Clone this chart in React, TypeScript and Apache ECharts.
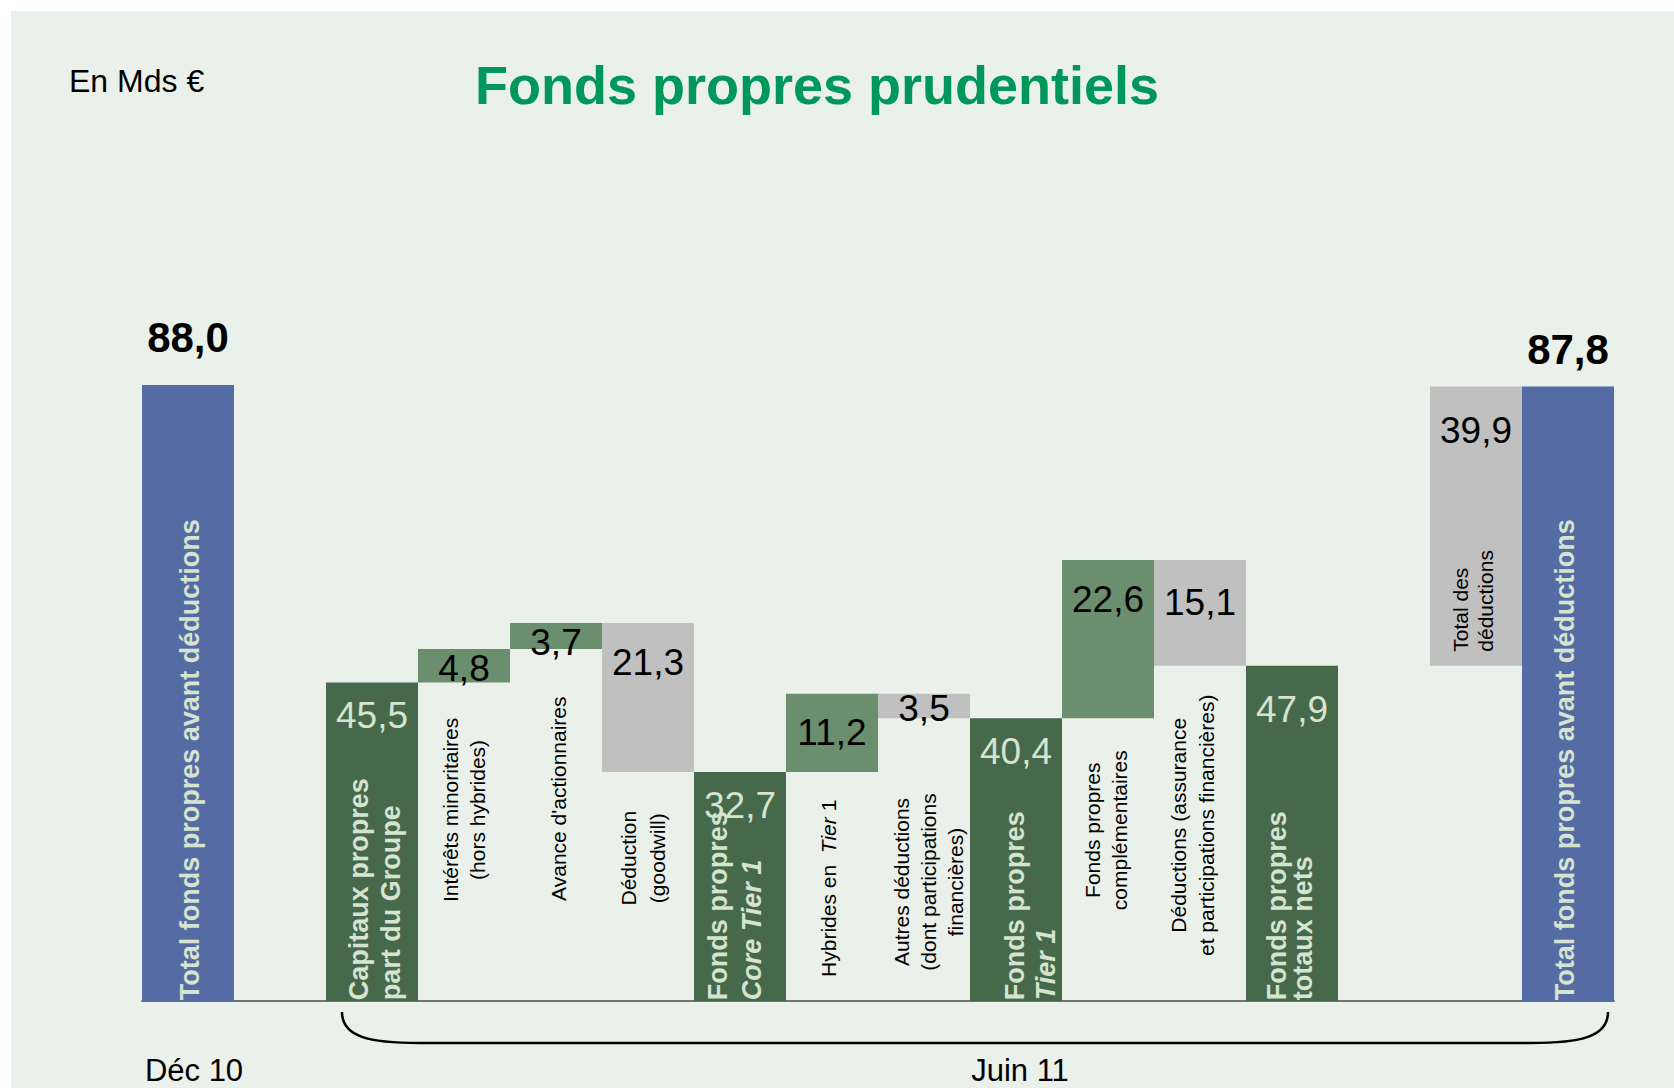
import React, { useEffect, useRef } from "react";
import * as echarts from "echarts";

// ---------- data ----------
const categories = [
  "Total fonds propres avant déductions",
  "",
  "Capitaux propres part du Groupe",
  "Intérêts minoritaires (hors hybrides)",
  "Avance d'actionnaires",
  "Déduction (goodwill)",
  "Fonds propres Core Tier 1",
  "Hybrides en Tier 1",
  "Autres déductions (dont participations financières)",
  "Fonds propres Tier 1",
  "Fonds propres complémentaires",
  "Déductions (assurance et participations financières)",
  "Fonds propres totaux nets",
  "",
  "Total des déductions",
  "Total fonds propres avant déductions",
];
const changes: (number | null)[] = [88.0, null, 45.5, 4.8, 3.7, -21.3, 32.7, 11.2, -3.5, 40.4, 22.6, -15.1, 47.9, null, 39.9, 87.8];
const barKinds = ["start", "gap", "subtotal", "add", "add", "deduct", "subtotal", "add", "deduct", "subtotal", "add", "deduct", "subtotal", "gap", "addback", "end"];
const barLabelTexts = [
  "Total fonds propres avant déductions",
  "",
  "Capitaux propres\npart du Groupe",
  "Intérêts minoritaires\n(hors hybrides)",
  "Avance d'actionnaires",
  "Déduction\n(goodwill)",
  "Fonds propres\n{bi|Core Tier 1}",
  "Hybrides en  {i|Tier} 1",
  "Autres déductions\n(dont participations\nfinancières)",
  "Fonds propres\n{bi|Tier 1}",
  "Fonds propres\ncomplémentaires",
  "Déductions (assurance\net participations financières)",
  "Fonds propres\ntotaux nets",
  "",
  "Total des\ndéductions",
  "Total fonds propres avant déductions",
];
const periodLabels = ["Déc 10", "Juin 11"];
const chartTitle = "Fonds propres prudentiels";
const unitLabel = "En Mds €";

// ---------- styles / layout ----------
const FONT = "'Liberation Sans', Arial, Helvetica, sans-serif";
const LIGHT = "#D5E3CF";
const COLORS: Record<string, string> = {
  start: "#546CA3",
  end: "#546CA3",
  subtotal: "#45694A",
  add: "#6B8F6E",
  deduct: "#C0C0C0",
  addback: "#C0C0C0",
};
const GRID_LEFT = 142;
const GRID_RIGHT_X = 1614;
const BASE_Y = 1001;
const PX_PER_UNIT = 7;
const Y_MAX = 100;

// value label layout: position, offset, light/dark
const valueLabelLayout: any[] = [
  { pos: "top", d: 27 },
  null,
  { pos: "in", d: 14, light: true },
  { pos: "in", d: 1 },
  { pos: "in", d: 1 },
  { pos: "in", d: 21 },
  { pos: "in", d: 15, light: true },
  { pos: "in", d: 20 },
  { pos: "in", d: -4 },
  { pos: "in", d: 15, light: true },
  { pos: "in", d: 21 },
  { pos: "in", d: 24 },
  { pos: "in", d: 25, light: true },
  null,
  { pos: "in", d: 26 },
  { pos: "top", d: 16 },
];

// rotated category labels layout (v: anchor on value axis)
const catLabelLayout: any[] = [
  { v: 0.1, dx: 2, align: "left", bold: true, lh: 32 },
  null,
  { v: 0.1, dx: 3, align: "left", bold: true, lh: 32 },
  { v: 27.3, dx: 0, align: "center", lh: 27 },
  { v: 28.9, dx: 2, align: "center", lh: 27 },
  { v: 20.4, dx: -5, align: "center", lh: 29 },
  { v: 0.1, dx: -5, align: "left", bold: true, lh: 34 },
  { v: 16.1, dx: -4, align: "center", lh: 27 },
  { v: 17.0, dx: 4, align: "center", lh: 27 },
  { v: 0.1, dx: 14, align: "left", bold: true, lh: 31 },
  { v: 24.4, dx: -2, align: "center", lh: 27 },
  { v: 25.1, dx: -8, align: "center", lh: 28 },
  { v: 0.1, dx: -2, align: "left", bold: true, lh: 26 },
  null,
  { v: 49.9, dx: -3, align: "left", lh: 25 },
  { v: 0.1, dx: -3, align: "left", bold: true, lh: 32 },
];

function buildWaterfall() {
  const bases: (number | string)[] = [];
  const heights: any[] = [];
  let running = 0;
  changes.forEach((v, i) => {
    const kind = barKinds[i];
    if (v === null || kind === "gap") {
      bases.push("-");
      heights.push("-");
      return;
    }
    let base = 0;
    let h = 0;
    if (kind === "start" || kind === "subtotal" || kind === "end") {
      base = 0;
      h = v;
      running = v;
    } else if (kind === "add" || kind === "addback") {
      base = running;
      h = v;
      running += v;
    } else {
      running += v;
      base = running;
      h = -v;
    }
    bases.push(+base.toFixed(2));
    const lay = valueLabelLayout[i];
    const isTop = lay && lay.pos === "top";
    heights.push({
      value: +h.toFixed(2),
      itemStyle: { color: COLORS[kind] },
      label: isTop
        ? {
            show: true,
            position: "top",
            distance: lay.d,
            fontSize: 42,
            fontWeight: "bold",
            color: "#000",
            fontFamily: FONT,
          }
        : {
            show: true,
            position: "insideTop",
            distance: 0,
            offset: [0, lay.d],
            fontSize: 37,
            fontWeight: "normal",
            color: lay.light ? LIGHT : "#000",
            fontFamily: FONT,
          },
    });
  });
  return { bases, heights };
}

function fmt(v: number | null) {
  if (v === null) return "";
  return Math.abs(v).toFixed(1).replace(".", ",");
}

export default function App() {
  const ref = useRef<HTMLDivElement>(null);
  useEffect(() => {
    if (!ref.current) return;
    const chart = echarts.init(ref.current, null, { renderer: "svg" });
    const { bases, heights } = buildWaterfall();
    const band = (GRID_RIGHT_X - GRID_LEFT) / categories.length;
    const braceL = GRID_LEFT + 2 * band + 16;
    const braceR = GRID_RIGHT_X - 6;
    const braceTop = BASE_Y + 11;
    const braceBot = BASE_Y + 42;
    const curveW = 78;

    const option: any = {
      animation: false,
      backgroundColor: "transparent",
      grid: {
        left: GRID_LEFT,
        right: 1674 - GRID_RIGHT_X,
        top: BASE_Y - Y_MAX * PX_PER_UNIT,
        bottom: 1088 - BASE_Y,
      },
      xAxis: {
        type: "category",
        data: categories,
        axisLine: { show: true, lineStyle: { color: "#707070", width: 2 } },
        axisTick: { show: false },
        axisLabel: { show: false },
        splitLine: { show: false },
      },
      yAxis: {
        type: "value",
        min: 0,
        max: Y_MAX,
        show: false,
        splitLine: { show: false },
      },
      series: [
        {
          type: "bar",
          stack: "w",
          barWidth: "100%",
          data: bases,
          itemStyle: { color: "transparent" },
          silent: true,
        },
        {
          type: "bar",
          stack: "w",
          barWidth: "100%",
          data: heights,
          label: {
            show: true,
            formatter: (p: any) => fmt(changes[p.dataIndex]),
          },
          silent: true,
        },
        {
          type: "custom",
          silent: true,
          z: 10,
          data: categories.map((_, i) => [i, 0]),
          renderItem: (params: any, api: any) => {
            const i = params.dataIndex;
            const cfg = catLabelLayout[i];
            if (!cfg) return null;
            const p = api.coord([i, cfg.v]);
            const fs = cfg.bold ? 27 : 21;
            const fill = cfg.bold ? LIGHT : "#000";
            const fw = cfg.bold ? "bold" : "normal";
            return {
              type: "text",
              x: p[0] + cfg.dx,
              y: p[1],
              rotation: Math.PI / 2,
              style: {
                text: barLabelTexts[i],
                fill,
                fontSize: fs,
                fontWeight: fw,
                fontFamily: FONT,
                align: cfg.align,
                verticalAlign: "middle",
                lineHeight: cfg.lh,
                rich: {
                  bi: { fontStyle: "italic", fontWeight: "bold", fontSize: fs, fontFamily: FONT, fill, lineHeight: cfg.lh },
                  i: { fontStyle: "italic", fontWeight: fw, fontSize: fs, fontFamily: FONT, fill, lineHeight: cfg.lh },
                },
              },
            };
          },
        },
      ],
      graphic: [
        {
          type: "text",
          x: 817,
          y: 85,
          style: {
            text: chartTitle,
            fill: "#00975A",
            fontSize: 54,
            fontWeight: "bold",
            fontFamily: FONT,
            align: "center",
            verticalAlign: "middle",
          },
        },
        {
          type: "text",
          x: 69,
          y: 81,
          style: {
            text: unitLabel,
            fill: "#000",
            fontSize: 32,
            fontFamily: FONT,
            align: "left",
            verticalAlign: "middle",
          },
        },
        {
          type: "text",
          x: GRID_LEFT + band / 2 + 6,
          y: 1070,
          style: {
            text: periodLabels[0],
            fill: "#000",
            fontSize: 31,
            fontFamily: FONT,
            align: "center",
            verticalAlign: "middle",
          },
        },
        {
          type: "text",
          x: 1020,
          y: 1070,
          style: {
            text: periodLabels[1],
            fill: "#000",
            fontSize: 31,
            fontFamily: FONT,
            align: "center",
            verticalAlign: "middle",
          },
        },
        {
          type: "bezierCurve",
          shape: {
            x1: braceL,
            y1: braceTop,
            cpx1: braceL,
            cpy1: braceBot - 6,
            cpx2: braceL + curveW * 0.35,
            cpy2: braceBot,
            x2: braceL + curveW,
            y2: braceBot,
          },
          style: { stroke: "#000", lineWidth: 2.5, fill: null },
        },
        {
          type: "line",
          shape: { x1: braceL + curveW, y1: braceBot, x2: braceR - curveW, y2: braceBot },
          style: { stroke: "#000", lineWidth: 2.5 },
        },
        {
          type: "bezierCurve",
          shape: {
            x1: braceR - curveW,
            y1: braceBot,
            cpx1: braceR - curveW * 0.35,
            cpy1: braceBot,
            cpx2: braceR,
            cpy2: braceBot - 6,
            x2: braceR,
            y2: braceTop,
          },
          style: { stroke: "#000", lineWidth: 2.5, fill: null },
        },
      ],
    };
    chart.setOption(option);
    return () => chart.dispose();
  }, []);

  return (
    <div style={{ position: "fixed", left: 0, top: 0, width: 1674, height: 1088, background: "#ffffff", overflow: "hidden" }}>
      <div style={{ position: "absolute", left: 11, top: 11, width: 1663, height: 1077, background: "#EAF0EA" }} />
      <div ref={ref} style={{ position: "absolute", left: 0, top: 0, width: 1674, height: 1088 }} />
    </div>
  );
}
